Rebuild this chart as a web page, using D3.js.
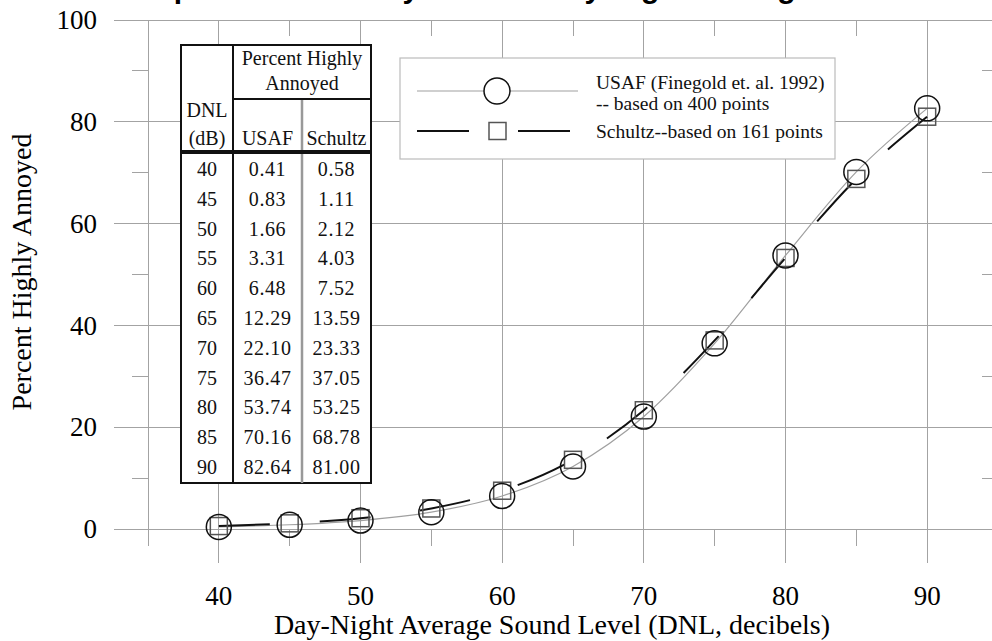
<!DOCTYPE html>
<html><head><meta charset="utf-8">
<script src="https://cdn.jsdelivr.net/npm/d3@7"></script>
<style>html,body{margin:0;padding:0;background:#fff;overflow:hidden}</style>
</head><body>
<svg id="chart" width="992" height="641"></svg>
<script>
const titleText = "Comparison of Annoyance vs. Day-Night Average Sound Level";
const dnl = [40, 45, 50, 55, 60, 65, 70, 75, 80, 85, 90];
const usafHA = [0.41, 0.83, 1.66, 3.31, 6.48, 12.29, 22.10, 36.47, 53.74, 70.16, 82.64];
const schultzHA = [0.58, 1.11, 2.12, 4.03, 7.52, 13.59, 23.33, 37.05, 53.25, 68.78, 81.00];
const usafLabels = ["0.41","0.83","1.66","3.31","6.48","12.29","22.10","36.47","53.74","70.16","82.64"];
const schultzLabels = ["0.58","1.11","2.12","4.03","7.52","13.59","23.33","37.05","53.25","68.78","81.00"];
const xMajorTicks = [40, 50, 60, 70, 80, 90];
const xMinorTicks = [45, 55, 65, 75, 85];
const yMajorTicks = [0, 20, 40, 60, 80, 100];
const yMinorTicks = [10, 30, 50, 70, 90];
const legendLabels = [["USAF (Finegold et. al. 1992)", "-- based on 400 points"], ["Schultz--based on 161 points"]];

const svg = d3.select("#chart");
const x = d3.scaleLinear().domain([35, 95]).range([148, 998]);
const y = d3.scaleLinear().domain([0, 100]).range([529, 20]);
const grid = "#a3a3a3";
const serif = "'Liberation Serif', 'Times New Roman', serif";

// title (cropped at top: only descenders visible)
svg.append("text").attr("x", 553).attr("y", -2.5).attr("text-anchor", "middle")
  .attr("font-family", "'Liberation Sans', Arial, sans-serif").attr("font-weight", "bold")
  .attr("font-size", 30).text(titleText);

const g = svg.append("g");
g.selectAll(".hmaj").data(yMajorTicks).join("line")
  .attr("x1", x(35) - 34).attr("x2", x(95)).attr("y1", d => y(d)).attr("y2", d => y(d))
  .attr("stroke", grid).attr("stroke-width", 1).attr("shape-rendering", "crispEdges");
g.selectAll(".hminL").data(yMinorTicks).join("line")
  .attr("x1", x(35) - 16).attr("x2", x(35)).attr("y1", d => y(d)).attr("y2", d => y(d))
  .attr("stroke", grid).attr("shape-rendering", "crispEdges");
g.selectAll(".hminR").data(yMinorTicks).join("line")
  .attr("x1", x(95) - 16).attr("x2", x(95)).attr("y1", d => y(d)).attr("y2", d => y(d))
  .attr("stroke", grid).attr("shape-rendering", "crispEdges");
g.selectAll(".vframe").data([35, 95]).join("line")
  .attr("x1", d => x(d)).attr("x2", d => x(d)).attr("y1", y(100)).attr("y2", y(0) + 17)
  .attr("stroke", grid).attr("shape-rendering", "crispEdges");
g.selectAll(".vmaj").data(xMajorTicks).join("line")
  .attr("x1", d => x(d)).attr("x2", d => x(d)).attr("y1", y(100)).attr("y2", y(0) + 34)
  .attr("stroke", grid).attr("shape-rendering", "crispEdges");
g.selectAll(".vminT").data(xMinorTicks).join("line")
  .attr("x1", d => x(d)).attr("x2", d => x(d)).attr("y1", y(100)).attr("y2", y(100) + 16)
  .attr("stroke", grid).attr("shape-rendering", "crispEdges");
g.selectAll(".vminB").data(xMinorTicks).join("line")
  .attr("x1", d => x(d)).attr("x2", d => x(d)).attr("y1", y(0)).attr("y2", y(0) + 17)
  .attr("stroke", grid).attr("shape-rendering", "crispEdges");

svg.selectAll(".ylab").data(yMajorTicks).join("text")
  .attr("x", 97).attr("y", d => y(d)).attr("dy", "0.34em").attr("text-anchor", "end")
  .attr("font-family", serif).attr("font-size", 27).text(d => d);
svg.selectAll(".xlab").data(xMajorTicks).join("text")
  .attr("x", d => x(d)).attr("y", 605).attr("text-anchor", "middle")
  .attr("font-family", serif).attr("font-size", 27).text(d => d);

svg.append("text").attr("x", 552).attr("y", 634).attr("text-anchor", "middle")
  .attr("font-family", serif).attr("font-size", 28).text("Day-Night Average Sound Level (DNL, decibels)");
svg.append("text").attr("transform", "translate(31,272) rotate(-90)").attr("text-anchor", "middle")
  .attr("font-family", serif).attr("font-size", 28).text("Percent Highly Annoyed");

const usafPts = dnl.map((d, i) => [d, usafHA[i]]);
const schultzPts = dnl.map((d, i) => [d, schultzHA[i]]);
const line = d3.line().x(d => x(d[0])).y(d => y(d[1])).curve(d3.curveMonotoneX);
svg.append("path").attr("d", line(usafPts)).attr("fill", "none").attr("stroke", "#a0a0a0").attr("stroke-width", 1.2);
svg.append("path").attr("d", line(schultzPts)).attr("fill", "none").attr("stroke", "#111")
  .attr("stroke-width", 2).attr("stroke-dasharray", "51,50");

svg.selectAll(".sq").data(schultzPts).join("rect")
  .attr("x", d => x(d[0]) - 8.5).attr("y", d => y(d[1]) - 8.5).attr("width", 17).attr("height", 17)
  .attr("fill", "none").attr("stroke", "#555").attr("stroke-width", 1.5);
svg.selectAll(".ci").data(usafPts).join("circle")
  .attr("cx", d => x(d[0])).attr("cy", d => y(d[1])).attr("r", 12.5)
  .attr("fill", "none").attr("stroke", "#111").attr("stroke-width", 1.5);

const tbl = svg.append("g");
const tL = 181, tR = 371, tT = 45, tB = 483, c1 = 233, c2 = 302, hLine = 99, thick = 152;
tbl.append("rect").attr("x", tL).attr("y", tT).attr("width", tR - tL).attr("height", tB - tT)
  .attr("fill", "#fff").attr("stroke", "#111").attr("stroke-width", 2);
tbl.append("line").attr("x1", c1).attr("x2", c1).attr("y1", tT).attr("y2", tB).attr("stroke", "#111").attr("stroke-width", 2);
tbl.append("line").attr("x1", c2).attr("x2", c2).attr("y1", hLine).attr("y2", tB).attr("stroke", "#999").attr("stroke-width", 2.5);
tbl.append("line").attr("x1", c1).attr("x2", tR).attr("y1", hLine).attr("y2", hLine).attr("stroke", "#111").attr("stroke-width", 2);
tbl.append("line").attr("x1", tL).attr("x2", tR).attr("y1", thick).attr("y2", thick).attr("stroke", "#111").attr("stroke-width", 4);
const tf = (sel) => sel.attr("font-family", serif).attr("font-size", 20).attr("text-anchor", "middle").attr("fill", "#111");
tf(tbl.append("text").attr("x", (c1 + tR) / 2).attr("y", 65)).text("Percent Highly");
tf(tbl.append("text").attr("x", (c1 + tR) / 2).attr("y", 90)).text("Annoyed");
tf(tbl.append("text").attr("x", (tL + c1) / 2).attr("y", 117)).text("DNL");
tf(tbl.append("text").attr("x", (tL + c1) / 2).attr("y", 145)).text("(dB)");
tf(tbl.append("text").attr("x", (c1 + c2) / 2).attr("y", 145)).text("USAF");
tf(tbl.append("text").attr("x", (c2 + tR) / 2).attr("y", 145)).text("Schultz");
const row = d3.scalePoint().domain(dnl).range([169, 467]);
tbl.selectAll(".r0").data(dnl).join("text").call(tf)
  .attr("x", (tL + c1) / 2).attr("y", d => row(d)).attr("dy", "0.35em").text(d => d);
tbl.selectAll(".r1").data(dnl).join("text").call(tf)
  .attr("x", (c1 + c2) / 2).attr("y", d => row(d)).attr("dy", "0.35em").attr("letter-spacing", 0.6).text((d, i) => usafLabels[i]);
tbl.selectAll(".r2").data(dnl).join("text").call(tf)
  .attr("x", (c2 + tR) / 2).attr("y", d => row(d)).attr("dy", "0.35em").attr("letter-spacing", 0.6).text((d, i) => schultzLabels[i]);

const lg = svg.append("g");
lg.append("rect").attr("x", 400).attr("y", 58).attr("width", 435).attr("height", 101)
  .attr("fill", "#fff").attr("stroke", "#bbb").attr("stroke-width", 1.2);
lg.append("line").attr("x1", 417).attr("x2", 578).attr("y1", 91).attr("y2", 91).attr("stroke", "#a0a0a0").attr("stroke-width", 1.2);
lg.append("circle").attr("cx", 497).attr("cy", 91).attr("r", 13).attr("fill", "#fff").attr("stroke", "#111").attr("stroke-width", 1.5);
lg.append("line").attr("x1", 417).attr("x2", 469).attr("y1", 131).attr("y2", 131).attr("stroke", "#111").attr("stroke-width", 2);
lg.append("line").attr("x1", 518).attr("x2", 570).attr("y1", 131).attr("y2", 131).attr("stroke", "#111").attr("stroke-width", 2);
lg.append("rect").attr("x", 489).attr("y", 122.5).attr("width", 17).attr("height", 17).attr("fill", "none").attr("stroke", "#555").attr("stroke-width", 1.5);
const lf = (sel) => sel.attr("font-family", serif).attr("font-size", 19.5).attr("fill", "#111");
lf(lg.append("text").attr("x", 596).attr("y", 89)).text(legendLabels[0][0]);
lf(lg.append("text").attr("x", 596).attr("y", 110)).text(legendLabels[0][1]);
lf(lg.append("text").attr("x", 596).attr("y", 138)).text(legendLabels[1][0]);
</script>
</body></html>
